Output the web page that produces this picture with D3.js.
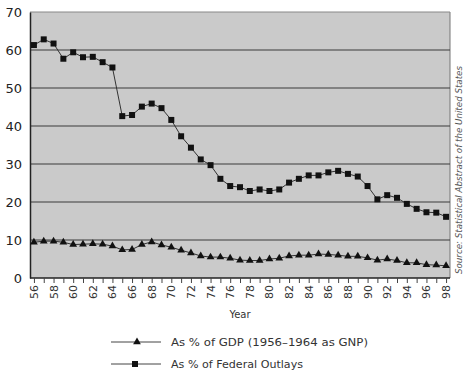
<!DOCTYPE html>
<html><head><meta charset="utf-8">
<script src="https://cdn.jsdelivr.net/npm/d3@7"></script>
<style>body{margin:0;background:#fff}svg{display:block}</style>
</head><body><svg id="c" width="473" height="384"></svg>
<script>
const years = d3.range(1956, 1999);
const outlays = [61.3,62.8,61.7,57.7,59.4,58.1,58.2,56.8,55.4,42.6,42.9,45.1,45.9,44.7,41.6,37.3,34.3,31.2,29.7,26.1,24.2,23.9,22.9,23.3,22.9,23.3,25.1,26.1,27.0,27.0,27.8,28.2,27.4,26.7,24.2,20.7,21.8,21.1,19.5,18.2,17.3,17.2,16.1];
const gdp = [9.4,9.7,9.7,9.4,8.8,8.9,9.0,8.9,8.4,7.4,7.5,8.8,9.5,8.7,8.1,7.3,6.6,5.8,5.5,5.5,5.2,4.7,4.6,4.6,5.0,5.2,5.8,6.0,6.0,6.3,6.2,6.0,5.7,5.7,5.3,4.7,5.0,4.6,4.0,4.0,3.5,3.4,3.2];
const yTicks = [0,10,20,30,40,50,60,70];
const xLabelYears = years.filter(d => d % 2 === 0);
const legendLabels = ["As % of GDP (1956\u20131964 as GNP)", "As % of Federal Outlays"];
const sourceText = "Source: Statistical Abstract of the United States";

const svg = d3.select("#c");
const L=30, R=450, T=12, B=278;
const x = d3.scaleLinear().domain([1955.6, 1998.4]).range([L, R]);
const y = d3.scaleLinear().domain([0, 70]).range([B, T]);
const font = "'DejaVu Sans', sans-serif";

svg.append("rect").attr("x",L).attr("y",T).attr("width",R-L).attr("height",B-T).attr("fill","#cacaca");
svg.append("line").attr("x1",R).attr("x2",R).attr("y1",T).attr("y2",B).attr("stroke","#777").attr("stroke-width",1);
svg.append("line").attr("x1",L).attr("x2",R).attr("y1",T).attr("y2",T).attr("stroke","#888").attr("stroke-width",1);

// gridlines
svg.append("g").selectAll("line").data(yTicks.filter(d=>d>0 && d<70)).join("line")
  .attr("x1",L).attr("x2",R).attr("y1",d=>y(d)).attr("y2",d=>y(d))
  .attr("stroke","#3a3a3a").attr("stroke-width",1);

// y axis
const ya = svg.append("g").attr("transform",`translate(${L},0)`)
  .call(d3.axisLeft(y).tickValues(yTicks).tickSize(0).tickPadding(8));
ya.select(".domain").attr("stroke","#222").attr("stroke-width",1.5);
ya.selectAll("text").attr("font-family",font).attr("font-size",13).attr("fill","#222");

// x axis (ticks only)
const xa = svg.append("g").attr("transform",`translate(0,${B})`)
  .call(d3.axisBottom(x).tickValues(years).tickSize(5).tickFormat(""));
xa.select(".domain").attr("stroke","#222").attr("stroke-width",1.5).attr("d",`M${L},0H${R}`);
xa.selectAll(".tick line").attr("stroke","#444");

// rotated x labels
const xl = svg.append("g").attr("transform","rotate(-90)");
xl.selectAll("text").data(xLabelYears).join("text")
  .attr("x", -(B+7))
  .attr("y", d => x(d)+4)
  .attr("text-anchor","end")
  .style("font-family",font).style("font-size","11px").attr("fill","#333")
  .text(d => String(d).slice(2));

svg.append("text").attr("x",240).attr("y",318).attr("text-anchor","middle")
  .attr("font-family",font).attr("font-size",10).attr("fill","#333").text("Year");

const line = d3.line().x((d,i)=>x(years[i])).y(d=>y(d));
svg.append("path").datum(outlays).attr("d",line).attr("fill","none").attr("stroke","#333").attr("stroke-width",1);
svg.append("path").datum(gdp).attr("d",line).attr("fill","none").attr("stroke","#333").attr("stroke-width",1);

const sq = d3.symbol().type(d3.symbolSquare).size(36);
const tri = d3.symbol().type(d3.symbolTriangle).size(26);
svg.append("g").selectAll("path").data(outlays).join("path")
  .attr("d",sq).attr("transform",(d,i)=>`translate(${x(years[i])},${y(d)})`).attr("fill","#111");
svg.append("g").selectAll("path").data(gdp).join("path")
  .attr("d",tri).attr("transform",(d,i)=>`translate(${x(years[i])},${y(d)})`).attr("fill","#111");

// source
svg.append("text").attr("transform",`translate(462,274) rotate(-90)`)
  .attr("font-family",font).attr("font-size",8).attr("font-style","italic").attr("fill","#555")
  .attr("textLength",208).attr("lengthAdjust","spacingAndGlyphs").text(sourceText);

// legend
const lg = svg.append("g");
const ly = [342, 364];
const lw = [197, 132];
[tri, sq].forEach((s,i)=>{
  lg.append("line").attr("x1",111).attr("x2",161).attr("y1",ly[i]).attr("y2",ly[i]).attr("stroke","#444").attr("stroke-width",1);
  lg.append("path").attr("d",s).attr("transform",`translate(${i?135:137},${ly[i]})`).attr("fill","#111");
  lg.append("text").attr("x",171).attr("y",ly[i]+4).attr("font-family",font).attr("font-size",11)
    .attr("textLength",lw[i]).attr("lengthAdjust","spacingAndGlyphs").attr("fill","#333").text(legendLabels[i]);
});
</script></body></html>
